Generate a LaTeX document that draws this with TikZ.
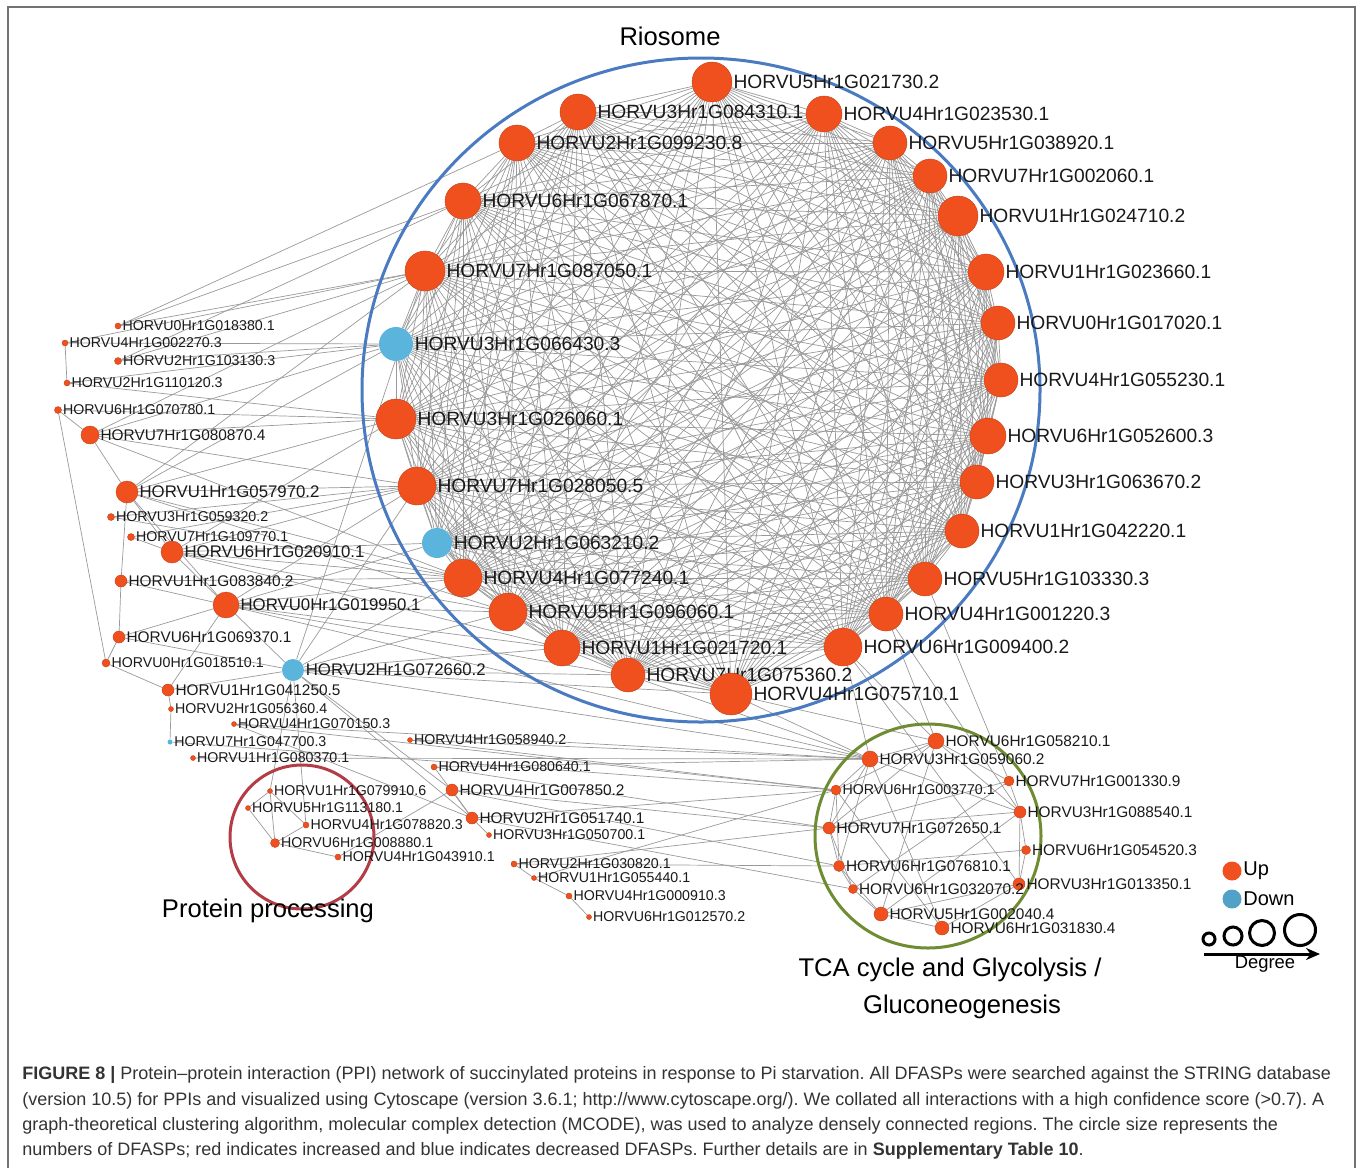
\documentclass[tikz,border=0pt]{standalone}
\usepackage{fontspec}
\setmainfont{Liberation Sans}
\usetikzlibrary{arrows.meta}
\pgfdeclarelayer{edgelayer}
\pgfdeclarelayer{nodelayer}
\pgfsetlayers{edgelayer,nodelayer,main}
\definecolor{upred}{HTML}{F0501E}
\definecolor{downblue}{HTML}{5AB4DC}
\definecolor{ringblue}{HTML}{4A7AC0}
\definecolor{procred}{HTML}{B43C46}
\definecolor{tcagreen}{HTML}{6E8C32}
\definecolor{captxt}{HTML}{333333}
\tikzstyle{up}=[circle,fill=upred,draw=upred!80!black,line width=0.2pt,inner sep=0pt,label distance=-0.8pt]
\tikzstyle{down}=[circle,fill=downblue,inner sep=0pt,label distance=-0.8pt]
\tikzstyle{lbig}=[font=\fontsize{9.6}{10}\selectfont,inner sep=0.5pt,text=black!90]
\tikzstyle{lmid}=[font=\fontsize{8.4}{9}\selectfont,inner sep=0.5pt,text=black!90]
\tikzstyle{lmd}=[font=\fontsize{7.7}{8}\selectfont,inner sep=0.5pt,text=black!90]
\tikzstyle{lsm}=[font=\fontsize{7.1}{8}\selectfont,inner sep=0.5pt,text=black!90]
\tikzstyle{link}=[draw=black!40,line width=0.35pt]
\tikzstyle{cluster}=[line width=1.5pt]
\tikzstyle{cltitle}=[font=\fontsize{12.8}{14}\selectfont,inner sep=0pt]
\tikzstyle{capline}=[font=\fontsize{9}{10}\selectfont\frenchspacing,text=captxt,inner sep=0pt,anchor=base west]
\tikzstyle{deg}=[circle,draw=black,line width=1.5pt,inner sep=0pt]

\begin{document}
\begin{tikzpicture}[x=0.5pt,y=-0.5pt]
	\useasboundingbox (0,0) rectangle (1358,1168);
	\begin{pgfonlayer}{nodelayer}
		% Riosome ring
		\node [style=up, minimum size=20pt, label={[lbig]0:HORVU5Hr1G021730.2}] (0) at (712, 82) {};
		\node [style=up, minimum size=18pt, label={[lbig]0:HORVU3Hr1G084310.1}] (1) at (578, 112) {};
		\node [style=up, minimum size=18pt, label={[lbig]0:HORVU4Hr1G023530.1}] (2) at (824, 114) {};
		\node [style=up, minimum size=18pt, label={[lbig]0:HORVU2Hr1G099230.8}] (3) at (517, 143) {};
		\node [style=up, minimum size=17pt, label={[lbig]0:HORVU5Hr1G038920.1}] (4) at (890, 143) {};
		\node [style=up, minimum size=17pt, label={[lbig]0:HORVU7Hr1G002060.1}] (5) at (930, 176) {};
		\node [style=up, minimum size=18pt, label={[lbig]0:HORVU6Hr1G067870.1}] (6) at (463, 201) {};
		\node [style=up, minimum size=20pt, label={[lbig]0:HORVU1Hr1G024710.2}] (7) at (958, 216) {};
		\node [style=up, minimum size=20pt, label={[lbig]0:HORVU7Hr1G087050.1}] (8) at (425, 271) {};
		\node [style=up, minimum size=18pt, label={[lbig]0:HORVU1Hr1G023660.1}] (9) at (986, 272) {};
		\node [style=up, minimum size=17pt, label={[lbig]0:HORVU0Hr1G017020.1}] (10) at (998, 323) {};
		\node [style=down, minimum size=17pt, label={[lbig]0:HORVU3Hr1G066430.3}] (11) at (396, 344) {};
		\node [style=up, minimum size=17pt, label={[lbig]0:HORVU4Hr1G055230.1}] (12) at (1001, 380) {};
		\node [style=up, minimum size=20pt, label={[lbig]0:HORVU3Hr1G026060.1}] (13) at (396, 419) {};
		\node [style=up, minimum size=18pt, label={[lbig]0:HORVU6Hr1G052600.3}] (14) at (988, 436) {};
		\node [style=up, minimum size=19pt, label={[lbig]0:HORVU7Hr1G028050.5}] (15) at (417, 486) {};
		\node [style=up, minimum size=17pt, label={[lbig]0:HORVU3Hr1G063670.2}] (16) at (977, 482) {};
		\node [style=up, minimum size=17pt, label={[lbig]0:HORVU1Hr1G042220.1}] (17) at (962, 531) {};
		\node [style=down, minimum size=15pt, label={[lbig]0:HORVU2Hr1G063210.2}] (18) at (437, 543) {};
		\node [style=up, minimum size=19pt, label={[lbig]0:HORVU4Hr1G077240.1}] (19) at (463, 578) {};
		\node [style=up, minimum size=17pt, label={[lbig]0:HORVU5Hr1G103330.3}] (20) at (925, 579) {};
		\node [style=up, minimum size=19pt, label={[lbig]0:HORVU5Hr1G096060.1}] (21) at (508, 612) {};
		\node [style=up, minimum size=17pt, label={[lbig]0:HORVU4Hr1G001220.3}] (22) at (886, 614) {};
		\node [style=up, minimum size=18pt, label={[lbig]0:HORVU1Hr1G021720.1}] (23) at (562, 648) {};
		\node [style=up, minimum size=19pt, label={[lbig]0:HORVU6Hr1G009400.2}] (24) at (843, 647) {};
		\node [style=up, minimum size=17pt, label={[lbig]0:HORVU7Hr1G075360.2}] (25) at (628, 675) {};
		\node [style=up, minimum size=21pt, label={[lbig]0:HORVU4Hr1G075710.1}] (26) at (731, 694) {};
		% left side
		\node [style=up, minimum size=3pt, label={[lsm]0:HORVU0Hr1G018380.1}] (27) at (118, 326) {};
		\node [style=up, minimum size=3pt, label={[lsm]0:HORVU4Hr1G002270.3}] (28) at (65, 343) {};
		\node [style=up, minimum size=3.5pt, label={[lsm]0:HORVU2Hr1G103130.3}] (29) at (118, 361) {};
		\node [style=up, minimum size=3pt, label={[lsm]0:HORVU2Hr1G110120.3}] (30) at (67, 383) {};
		\node [style=up, minimum size=3.5pt, label={[lsm]0:HORVU6Hr1G070780.1}] (31) at (58, 410) {};
		\node [style=up, minimum size=9pt, label={[lmd]0:HORVU7Hr1G080870.4}] (32) at (90, 435) {};
		\node [style=up, minimum size=11pt, label={[lmid]0:HORVU1Hr1G057970.2}] (33) at (127, 492) {};
		\node [style=up, minimum size=3.5pt, label={[lsm]0:HORVU3Hr1G059320.2}] (34) at (111, 517) {};
		\node [style=up, minimum size=3.5pt, label={[lsm]0:HORVU7Hr1G109770.1}] (35) at (131, 537) {};
		\node [style=up, minimum size=11pt, label={[lmid]0:HORVU6Hr1G020910.1}] (36) at (172, 552) {};
		\node [style=up, minimum size=6pt, label={[lmd]0:HORVU1Hr1G083840.2}] (37) at (121, 581) {};
		\node [style=up, minimum size=13pt, label={[lmid]0:HORVU0Hr1G019950.1}] (38) at (226, 605) {};
		\node [style=up, minimum size=6pt, label={[lmd]0:HORVU6Hr1G069370.1}] (39) at (119, 637) {};
		\node [style=up, minimum size=4pt, label={[lsm]0:HORVU0Hr1G018510.1}] (40) at (106, 663) {};
		\node [style=down, minimum size=11pt, label={[lmid]0:HORVU2Hr1G072660.2}] (41) at (293, 670) {};
		\node [style=up, minimum size=6pt, label={[lmd]0:HORVU1Hr1G041250.5}] (42) at (168, 690) {};
		\node [style=up, minimum size=2.5pt, label={[lsm]0:HORVU2Hr1G056360.4}] (43) at (171, 709) {};
		\node [style=up, minimum size=2.5pt, label={[lsm]0:HORVU4Hr1G070150.3}] (44) at (234, 724) {};
		\node [style=down, minimum size=2.5pt, label={[lsm]0:HORVU7Hr1G047700.3}] (45) at (170, 742) {};
		\node [style=up, minimum size=2.5pt, label={[lsm]0:HORVU1Hr1G080370.1}] (46) at (193, 758) {};
		\node [style=up, minimum size=2.5pt, label={[lsm]0:HORVU4Hr1G058940.2}] (47) at (410, 740) {};
		\node [style=up, minimum size=3pt, label={[lsm]0:HORVU4Hr1G080640.1}] (48) at (434, 767) {};
		\node [style=up, minimum size=6pt, label={[lmd]0:HORVU4Hr1G007850.2}] (49) at (452, 790) {};
		\node [style=up, minimum size=6pt, label={[lmd]0:HORVU2Hr1G051740.1}] (50) at (472, 818) {};
		\node [style=up, minimum size=2.5pt, label={[lsm]0:HORVU3Hr1G050700.1}] (51) at (489, 835) {};
		\node [style=up, minimum size=3pt, label={[lsm]0:HORVU2Hr1G030820.1}] (52) at (514, 864) {};
		\node [style=up, minimum size=2.5pt, label={[lsm]0:HORVU1Hr1G055440.1}] (53) at (534, 878) {};
		\node [style=up, minimum size=3pt, label={[lsm]0:HORVU4Hr1G000910.3}] (54) at (569, 896) {};
		\node [style=up, minimum size=2.5pt, label={[lsm]0:HORVU6Hr1G012570.2}] (55) at (589, 917) {};
		% protein processing
		\node [style=up, minimum size=2.5pt, label={[lsm]0:HORVU1Hr1G079910.6}] (56) at (270, 791) {};
		\node [style=up, minimum size=2.5pt, label={[lsm]0:HORVU5Hr1G113180.1}] (57) at (248, 808) {};
		\node [style=up, minimum size=3pt, label={[lsm]0:HORVU4Hr1G078820.3}] (58) at (306, 825) {};
		\node [style=up, minimum size=4.5pt, label={[lsm]0:HORVU6Hr1G008880.1}] (59) at (275, 843) {};
		\node [style=up, minimum size=3pt, label={[lsm]0:HORVU4Hr1G043910.1}] (60) at (338, 857) {};
		% TCA cycle
		\node [style=up, minimum size=8pt, label={[lmd]0:HORVU6Hr1G058210.1}] (61) at (936, 741) {};
		\node [style=up, minimum size=8pt, label={[lmd]0:HORVU3Hr1G059060.2}] (62) at (870, 759) {};
		\node [style=up, minimum size=5pt, label={[lmd]0:HORVU7Hr1G001330.9}] (63) at (1009, 781) {};
		\node [style=up, minimum size=5pt, label={[lsm]0:HORVU6Hr1G003770.1}] (64) at (836, 790) {};
		\node [style=up, minimum size=6pt, label={[lmd]0:HORVU3Hr1G088540.1}] (65) at (1020, 812) {};
		\node [style=up, minimum size=6pt, label={[lmd]0:HORVU7Hr1G072650.1}] (66) at (829, 828) {};
		\node [style=up, minimum size=4.5pt, label={[lmd]0:HORVU6Hr1G054520.3}] (67) at (1026, 850) {};
		\node [style=up, minimum size=5.5pt, label={[lmd]0:HORVU6Hr1G076810.1}] (68) at (839, 866) {};
		\node [style=up, minimum size=6pt, label={[lmd]0:HORVU3Hr1G013350.1}] (69) at (1019, 884) {};
		\node [style=up, minimum size=4.5pt, label={[lmd]0:HORVU6Hr1G032070.2}] (70) at (853, 889) {};
		\node [style=up, minimum size=7pt, label={[lmd]0:HORVU5Hr1G002040.4}] (71) at (881, 914) {};
		\node [style=up, minimum size=7pt, label={[lmd]0:HORVU6Hr1G031830.4}] (72) at (942, 928) {};
		% titles
		\node [style=cltitle] (riotitle) at (670, 36) {Riosome};
		\node [style=cltitle] (proctitle) at (268, 911) {Protein processing};
		\node [style=cltitle] (tcatitle) at (950, 970) {TCA cycle and Glycolysis /};
		\node [style=cltitle] (tcatitle2) at (962, 1007) {Gluconeogenesis};
		% legend
		\node [circle,fill=upred,minimum size=9.5pt,inner sep=0pt,label={[font=\fontsize{10}{11}\selectfont,inner sep=0.5pt]0:Up}] (keyup) at (1232, 871) {};
		\node [circle,fill=downblue!90!black,minimum size=9.5pt,inner sep=0pt,label={[font=\fontsize{10}{11}\selectfont,inner sep=0.5pt]0:Down}] (keydown) at (1232, 899) {};
		\node [style=deg, minimum size=6pt] (deg1) at (1209, 939) {};
		\node [style=deg, minimum size=9pt] (deg2) at (1233, 936) {};
		\node [style=deg, minimum size=12.5pt] (deg3) at (1262, 933) {};
		\node [style=deg, minimum size=15.5pt] (deg4) at (1300, 930) {};
		\coordinate (degstart) at (1204, 954);
		\coordinate (degend) at (1320, 954);
		\node [font=\fontsize{9.2}{10}\selectfont,inner sep=0pt] (degtext) at (1265, 964) {Degree};
	\end{pgfonlayer}
	\begin{pgfonlayer}{edgelayer}
		\foreach \i in {0,...,25} {
			\pgfmathtruncatemacro\k{\i+1}
			\foreach \j in {\k,...,26}
				\draw [style=link] (\i) to (\j);
		}
		\foreach \a/\b in {27/8, 27/6, 27/3, 28/30, 28/8, 28/11, 29/8, 29/11, 29/6, 30/11, 30/13,
			31/32, 31/40, 31/13, 32/33, 32/8, 32/11, 32/13, 32/15, 32/19, 33/8, 33/11, 33/13,
			33/15, 33/19, 33/21, 33/36, 33/38, 34/15, 34/19, 35/15, 35/36, 36/13, 36/15, 36/18,
			36/19, 36/21, 36/23, 36/38, 37/38, 37/39, 37/33, 37/19, 38/18, 38/19, 38/21, 38/23,
			38/41, 38/15, 38/26, 38/62, 39/40, 39/41, 39/38, 40/42, 41/19, 41/21, 41/23, 41/25,
			41/26, 41/15, 41/8, 41/49, 41/50, 41/62, 42/43, 43/45, 42/41, 42/38, 44/50, 44/62,
			44/64, 46/62, 45/64, 47/62, 47/64, 48/50, 48/62, 48/66, 49/50, 49/66, 49/68, 50/51,
			50/64, 50/70, 52/53, 53/54, 54/55, 52/66, 52/68, 53/64, 56/59, 57/59, 58/59, 60/59,
			56/58, 57/56, 56/41, 58/41, 60/49}
			\draw [style=link] (\a) to (\b);
		\foreach \a/\b in {61/62, 61/63, 61/64, 61/65, 61/66, 62/64, 62/66, 62/68, 62/65, 63/65,
			63/66, 64/66, 64/68, 65/67, 65/69, 65/66, 66/68, 66/70, 67/69, 68/70, 68/71, 69/72,
			69/71, 70/71, 71/72, 64/72, 62/72, 61/71, 63/70, 65/71, 67/68,
			61/26, 61/24, 62/26, 62/25, 61/22, 65/22, 69/24, 63/20, 62/24}
			\draw [style=link] (\a) to (\b);
		% clusters
		\draw [style=cluster, draw=ringblue] (701, 390) ellipse [x radius=339, y radius=332];
		\draw [style=cluster, draw=procred] (302, 837) circle [radius=72];
		\draw [style=cluster, draw=tcagreen] (928, 836) ellipse [x radius=113, y radius=112];
	\end{pgfonlayer}
	\draw [line width=1.5pt, -{Stealth[length=7pt,width=6pt]}] (degstart) to (degend);
	% frame and caption
	\draw [draw=black!55, line width=1pt] (8, 1168) -- (8, 7) -- (1355, 7) -- (1355, 1168);
	\node [style=capline] (cap1) at (22, 1079) {\textbf{FIGURE 8 |} Protein–protein interaction (PPI) network of succinylated proteins in response to Pi starvation. All DFASPs were searched against the STRING database};
	\node [style=capline] (cap2) at (22, 1105) {(version 10.5) for PPIs and visualized using Cytoscape (version 3.6.1; http://www.cytoscape.org/). We collated all interactions with a high confidence score (>0.7). A};
	\node [style=capline] (cap3) at (22, 1130) {graph-theoretical clustering algorithm, molecular complex detection (MCODE), was used to analyze densely connected regions. The circle size represents the};
	\node [style=capline] (cap4) at (22, 1155) {numbers of DFASPs; red indicates increased and blue indicates decreased DFASPs. Further details are in \textbf{Supplementary Table 10}.};
\end{tikzpicture}
\end{document}
